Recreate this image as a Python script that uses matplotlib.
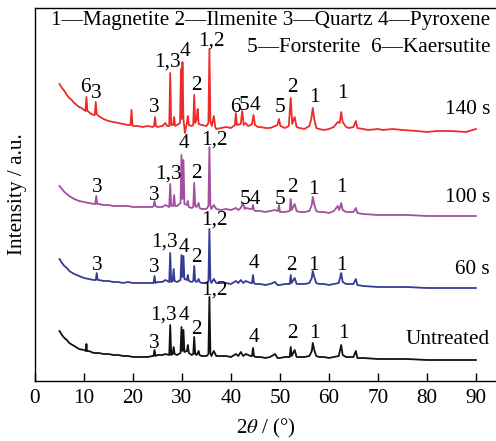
import matplotlib
matplotlib.use("Agg")
import matplotlib.pyplot as plt

plt.rcParams['font.family'] = ['Liberation Serif', 'DejaVu Serif']
plt.rcParams['mathtext.fontset'] = 'stix'

# (2theta, intensity in arbitrary stacked units)
untreated = [(5, 50), (5.5, 46), (6, 43), (6.5, 41), (7, 38), (8, 35), (9, 32), (10, 31), (10.4, 30), (10.5, 37),
             (10.6, 30), (11, 30), (12, 28), (13, 28), (14, 27), (15, 27), (16, 26), (17, 26), (18, 25), (19, 25),
             (20, 24), (21, 24), (22, 24), (23, 24), (24, 25), (24.2, 25), (24.4, 31), (24.6, 25), (25, 26), (26, 26),
             (26.6, 27), (27.4, 26), (27.6, 56), (27.8, 26), (28.1, 27), (28.3, 34), (28.5, 27), (29, 26), (29.7, 28),
             (29.9, 54), (30.1, 30), (30.3, 51), (30.5, 29), (31, 30), (31.2, 36), (31.4, 28), (32, 26), (32.3, 27),
             (32.5, 44), (32.7, 27), (33, 26), (33.4, 30), (33.6, 26), (34, 25), (35, 25), (35.4, 27), (35.6, 84),
             (35.8, 28), (36, 25), (36.5, 30), (37, 25), (38, 25), (39, 25), (40, 24), (41, 27), (41.5, 25), (42, 29),
             (42.5, 25), (43, 27), (44, 25), (44.3, 25), (44.5, 33), (44.7, 25), (45, 24), (46, 24), (47, 23), (48, 24),
             (49, 27), (49.5, 23), (50, 23), (51, 24), (52, 24), (52.2, 34), (52.4, 25), (53, 31), (53.4, 24), (54, 24),
             (55, 24), (56, 25), (56.5, 30), (56.7, 38), (57, 31), (57.4, 25), (58, 24), (59, 24), (60, 23), (61, 24),
             (62, 25), (62.5, 36), (62.8, 26), (63.5, 24), (64, 24), (65, 24), (65.5, 30), (65.8, 23), (67, 23),
             (70, 22), (73, 22), (76, 22), (80, 21), (84, 21), (87, 21), (90, 21)]

s60 = [(5, 122), (5.5, 118), (6, 115), (6.5, 113), (7, 110), (8, 107), (9, 105), (10, 103), (11, 102), (12, 101),
       (12.4, 101), (12.6, 108), (12.8, 101), (13, 101), (14, 100), (15, 100), (16, 99), (17, 99), (18, 98), (19, 99),
       (20, 98), (21, 98), (22, 98), (23, 98), (24, 98), (24.2, 98), (24.4, 105), (24.6, 98), (25, 99), (26, 99),
       (26.6, 101), (27.4, 99), (27.6, 128), (27.8, 99), (28.1, 100), (28.3, 112), (28.5, 100), (29, 99),
       (29.7, 101), (29.9, 126), (30.1, 104), (30.3, 125), (30.5, 102), (31, 101), (31.2, 106), (31.4, 100),
       (32, 99), (32.3, 100), (32.5, 115), (32.7, 100), (33, 99), (33.4, 102), (33.6, 99), (34, 98), (35, 98),
       (35.4, 100), (35.6, 152), (35.8, 101), (36, 98), (36.5, 102), (37, 98), (38, 98), (39, 98), (40, 97),
       (41, 100), (41.5, 98), (42, 101), (42.5, 98), (43, 100), (44, 98), (44.3, 98), (44.5, 106), (44.7, 98),
       (45, 97), (46, 97), (47, 96), (48, 97), (49, 99), (49.5, 96), (50, 96), (51, 97), (52, 97), (52.2, 106),
       (52.4, 98), (53, 103), (53.4, 97), (54, 97), (55, 97), (56, 98), (56.5, 103), (56.7, 110), (57, 104),
       (57.4, 98), (58, 97), (59, 97), (60, 96), (61, 97), (62, 98), (62.5, 108), (62.8, 99), (63.5, 97), (64, 97),
       (65, 97), (65.5, 102), (65.8, 96), (67, 95), (70, 94), (73, 94), (76, 94), (80, 93), (84, 93), (87, 93),
       (90, 93)]

s100 = [(5, 195), (5.5, 192), (6, 189), (6.5, 187), (7, 185), (8, 182), (9, 180), (10, 179), (11, 178), (12, 177),
        (12.3, 177), (12.5, 185), (12.7, 177), (13, 177), (14, 176), (15, 176), (16, 175), (17, 175), (18, 175),
        (19, 175), (20, 174), (21, 174), (22, 174), (23, 174), (24, 174), (24.2, 175), (24.4, 180), (24.6, 175),
        (25, 174), (26, 174), (26.6, 176), (27.4, 174), (27.6, 197), (27.8, 175), (28.2, 175), (28.4, 186),
        (28.6, 175), (29, 175), (29.7, 178), (29.9, 226), (30.1, 182), (30.3, 221), (30.5, 177), (31, 176),
        (31.2, 180), (31.4, 174), (32, 173), (32.3, 174), (32.5, 198), (32.7, 175), (33, 174), (33.4, 178),
        (33.6, 173), (34, 172), (35, 172), (35.4, 175), (35.6, 234), (35.8, 176), (36, 172), (36.5, 176), (37, 172),
        (38, 171), (39, 172), (40, 171), (41, 173), (41.5, 171), (42, 173), (42.5, 178), (42.8, 172), (43, 173),
        (44, 172), (44.3, 172), (44.5, 176), (44.7, 171), (45, 170), (46, 170), (47, 169), (48, 170), (49, 171),
        (49.6, 170), (49.8, 176), (50, 169), (51, 169), (52, 170), (52.2, 182), (52.4, 171), (53, 177), (53.4, 170),
        (54, 169), (55, 169), (56, 170), (56.5, 176), (56.7, 184), (57, 177), (57.4, 170), (58, 169), (59, 169),
        (60, 168), (61, 170), (61.8, 175), (62.1, 171), (62.5, 178), (62.8, 171), (63.5, 169), (64, 169), (65, 169),
        (65.5, 173), (65.8, 168), (67, 167), (70, 166), (73, 166), (76, 166), (80, 165), (84, 165), (87, 165),
        (90, 165)]

s140 = [(5, 297), (5.5, 293), (6, 290), (6.5, 286), (7, 283), (7.5, 281), (8, 278), (8.5, 276), (9, 274), (9.5, 273),
        (10, 271), (10.3, 270), (10.5, 284), (10.7, 270), (11, 269), (11.5, 267), (12, 266), (12.2, 266), (12.4, 279),
        (12.6, 267), (13, 265), (14, 262), (15, 260), (16, 259), (17, 258), (18, 257), (19, 256), (19.5, 256),
        (19.7, 271), (19.9, 256), (20, 255), (21, 255), (22, 254), (23, 255), (24, 254), (24.3, 255), (24.5, 264),
        (24.7, 255), (25, 254), (26, 255), (26.6, 258), (27, 255), (27.4, 255), (27.6, 308), (27.8, 256),
        (28.2, 256), (28.4, 264), (28.6, 255), (29, 256), (29.6, 258), (29.8, 312), (29.95, 262), (30.1, 319),
        (30.3, 262), (30.6, 248), (31, 258), (31.2, 265), (31.4, 256), (32, 255), (32.3, 256), (32.5, 286),
        (32.7, 258), (33, 262), (33.2, 272), (33.4, 257), (34, 256), (35, 255), (35.4, 258), (35.6, 332),
        (35.8, 260), (36.1, 255), (36.5, 265), (36.8, 254), (37, 252), (38, 253), (39, 254), (40, 253), (40.8, 256),
        (41, 268), (41.2, 256), (42, 257), (42.3, 270), (42.6, 256), (43, 258), (43.5, 255), (44, 256), (44.3, 257),
        (44.6, 266), (44.9, 256), (45.5, 254), (46, 254), (47, 253), (48, 253), (49, 255), (49.5, 256), (49.8, 262),
        (50.1, 255), (51, 253), (51.8, 255), (52.2, 283), (52.5, 257), (53, 264), (53.4, 254), (54, 253), (55, 252),
        (56, 255), (56.4, 262), (56.7, 273), (57, 262), (57.4, 253), (58, 252), (59, 251), (60, 252), (61, 254),
        (61.8, 259), (62.2, 258), (62.5, 269), (62.8, 259), (63.5, 254), (64, 253), (65, 254), (65.5, 260),
        (65.8, 253), (67, 252), (68, 251), (70, 252), (71, 251), (73, 252), (75, 251), (78, 250), (80, 249),
        (82, 250), (85, 250), (88, 249), (90, 252)]

series_names = ["Untreated", "60 s", "100 s", "140 s"]
series_colors = ["#111111", "#343c94", "#a24fa0", "#ee2b2b"]
series_data = [untreated, s60, s100, s140]
series_label_y = [41, 111, 184, 271]

# peak annotations: (text, 2theta, y)
peak_labels = [
    ("3", 24.3, 38), ("1,3", 26.3, 66), ("4", 30.5, 66), ("2", 33.0, 51), ("1,2", 36.7, 91),
    ("4", 44.6, 43), ("2", 52.6, 48), ("1", 57.0, 48), ("1", 62.9, 48),
    ("3", 12.7, 115), ("3", 24.3, 113), ("1,3", 26.5, 139), ("4", 30.5, 134), ("2", 33.0, 124),
    ("1,2", 36.7, 161), ("4", 44.6, 117), ("2", 52.4, 116), ("1", 56.8, 116), ("1", 62.6, 116),
    ("3", 12.7, 193), ("3", 24.3, 185), ("1,3", 27.2, 207), ("4", 30.5, 238), ("2", 33.0, 208),
    ("1,2", 36.7, 241), ("54", 43.9, 181), ("5", 50.1, 182), ("2", 52.5, 193), ("1", 56.9, 191),
    ("1", 62.6, 193),
    ("6", 10.2, 293), ("3", 12.6, 288), ("3", 24.3, 274), ("1,3", 27.0, 319), ("4", 30.6, 329),
    ("2", 33.0, 296), ("1,2", 35.9, 340), ("6", 40.8, 273), ("5", 42.7, 275), ("4", 44.9, 275),
    ("5", 50.0, 274), ("2", 52.6, 294), ("1", 57.1, 283), ("1", 62.8, 288),
]

legend_line1 = "1\u2014Magnetite 2\u2014Ilmenite 3\u2014Quartz 4\u2014Pyroxene"
legend_line2 = "5\u2014Forsterite  6\u2014Kaersutite"

fig = plt.figure(figsize=(4.96, 4.41), dpi=100)
ax = fig.add_axes([35 / 496, 60 / 441, 461 / 496, 373 / 441])

for data, col in zip(series_data, series_colors):
    xs, ys = zip(*data)
    ax.plot(xs, ys, color=col, lw=1.3)

fs = 15.3
for name, yy in zip(series_names, series_label_y):
    ax.text(92.9, yy, name, ha='right', va='center', fontsize=fs)

for txt, xx, yy in peak_labels:
    ax.text(xx, yy, txt, ha='center', va='center', fontsize=fs)

ax.text(93.0, 360, legend_line1, ha='right', va='center', fontsize=fs)
ax.text(93.0, 333, legend_line2, ha='right', va='center', fontsize=fs)

ax.set_xlim(0, 94.1)
ax.set_ylim(0, 373)
ax.set_xticks(range(0, 91, 10))
ax.set_yticks([])
ax.tick_params(axis='x', direction='in', length=6, width=1, labelsize=15.3, pad=6)
ax.spines['right'].set_visible(False)
for sp in ['left', 'top', 'bottom']:
    ax.spines[sp].set_linewidth(1.0)

ax.set_xlabel("2$\\theta$ / (°)", fontsize=15, labelpad=6)
ax.set_ylabel("Intensity / a.u.", fontsize=15.3, labelpad=6)

fig.savefig("out.png", dpi=100)
